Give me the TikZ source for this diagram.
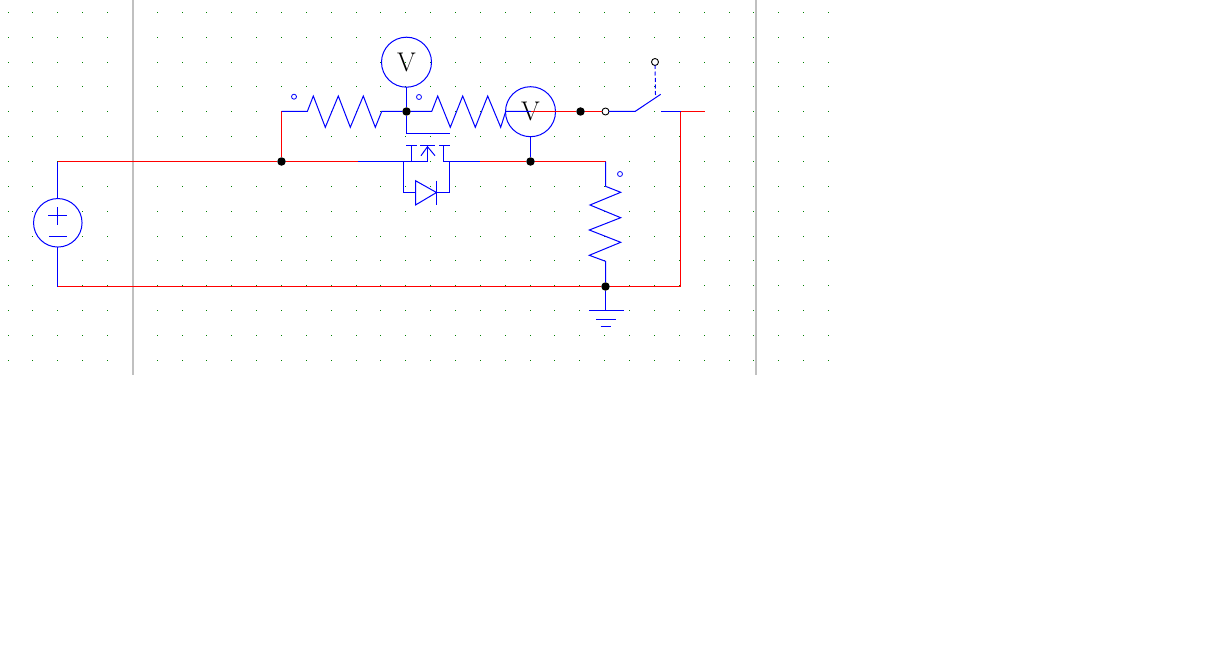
\documentclass[tikz,border=0pt]{standalone}
\definecolor{wireblue}{RGB}{0,0,255}
\definecolor{wirered}{RGB}{255,0,0}
\definecolor{griddot}{RGB}{0,128,0}
\definecolor{guide}{RGB}{192,192,192}
\tikzset{
  bw/.style={draw=wireblue,line width=1pt},
  rw/.style={draw=wirered,line width=1pt},
  guideline/.style={draw=guide,line width=2pt},
  junction/.style={circle,fill=black,draw=none,minimum size=8.5pt,inner sep=0pt,outer sep=0pt},
  opendot/.style={circle,fill=white,draw=black,line width=0.9pt,minimum size=7pt,inner sep=0pt,outer sep=0pt},
  markdot/.style={circle,draw=wireblue,line width=0.8pt,minimum size=5pt,inner sep=0pt,outer sep=0pt},
  meter/.style={circle,draw=wireblue,line width=1pt,minimum size=50pt,inner sep=0pt,outer sep=0pt,font=\fontsize{27}{27}\selectfont},
  source/.style={circle,draw=wireblue,line width=1pt,minimum size=48.5pt,inner sep=0pt,outer sep=0pt}
}
\begin{document}
\begin{tikzpicture}[x=1pt,y=-1pt]
\useasboundingbox (0,0) rectangle (1207,650);
\fill[white] (0,0) rectangle (1207,650);
% grid
\foreach \i in {0,...,33}{\foreach \j in {0,...,14}{
  \pgfmathtruncatemacro{\gx}{8.01+24.862*\i}
  \pgfmathtruncatemacro{\gy}{12.4+24.857*\j}
  \fill[griddot] (\gx,\gy) rectangle ++(1,1);
}}
% guide lines
\coordinate (g1t) at (133,0); \coordinate (g1b) at (133,374.5);
\coordinate (g2t) at (756,0); \coordinate (g2b) at (756,374.5);
\draw[guideline] (g1t) -- (g1b);
\draw[guideline] (g2t) -- (g2b);
% main coordinates
\node[source] (vs) at (57.8,222.8) {};
\node[meter] (v1) at (406.5,62.2) {\raisebox{-0.8pt}{V}};
\node[meter] (v2) at (530.5,111.7) {\raisebox{-0.8pt}{V}};
\node[junction] (j1) at (281.5,161.5) {};
\node[junction] (j2) at (406.5,111.5) {};
\node[junction] (j3) at (530.5,161.5) {};
\node[junction] (j4) at (580.5,111.5) {};
\node[junction] (j5) at (605.5,286.5) {};
\node[opendot] (o1) at (605.5,111.5) {};
\node[opendot] (o2) at (655,62) {};
\coordinate (tl) at (57.5,161.5);
\coordinate (bl) at (57.5,286.5);
\coordinate (tr) at (605.5,161.5);
\coordinate (br) at (680.5,286.5);
\coordinate (sw) at (680.5,111.5);
\coordinate (ft) at (705,111.5);
\coordinate (c1) at (281.5,111.5);
\coordinate (m1) at (358,161.5);
\coordinate (m2) at (480,161.5);
\coordinate (v2c) at (530.5,111.5);
% red wires
\draw[rw] (tl) -- (j1) -- (m1);
\draw[bw] (57.5,198.5) -- (tl);
\draw[bw] (57.5,247) -- (bl);
\draw[rw] (bl) -- (j5) -- (br) -- (sw) -- (ft);
\draw[rw] (j1) -- (c1);
\draw[rw] (m2) -- (j3) -- (tr);
\draw[rw] (v2c) -- (j4) -- (o1);
% source symbols
\draw[bw] (48.3,215.5) -- (66.7,215.5);
\draw[bw] (57.5,207.3) -- (57.5,224.7);
\draw[bw] (49.3,236.5) -- (66.7,236.5);
% resistor 1
\draw[bw,line join=miter] (c1) -- (307.3,111.5) -- (313.3,96) -- (325.3,127.3) -- (338.3,96) -- (350.3,127.3) -- (363.3,96) -- (375.3,127.3) -- (381.7,111.5) -- (j2);
% resistor 2
\draw[bw] (j2) -- (431.7,111.5) -- (437.7,96) -- (450.3,127.3) -- (462.7,96) -- (475.3,127.3) -- (487.7,96) -- (500.7,127.3) -- (505.7,111.5) -- (v2c);
% resistor 3
\draw[bw] (tr) -- (605.5,186.3) -- (620.7,192.3) -- (590,205) -- (620.7,217.7) -- (589.3,230) -- (620.7,242.3) -- (589.3,255.3) -- (605.5,261.3) -- (j5);
% meter leads
\draw[bw] (v1.south) -- (j2);
\draw[bw] (v2.south) -- (j3);
% mosfet
\draw[bw] (j2) -- (406.5,133.5) -- (450,133.5);
\draw[bw] (m1) -- (427.5,161.5) -- (427.5,145.5);
\draw[bw] (406,145.5) -- (416.7,145.5);
\draw[bw] (420,145.5) -- (435,145.5);
\draw[bw] (439.3,145.5) -- (450,145.5);
\draw[bw] (411.5,145.5) -- (411.5,161.5);
\draw[bw] (443.5,145.5) -- (443.5,161.5) -- (m2);
\draw[bw] (421,155.7) -- (427.5,146.7) -- (435,155.7);
% body diode
\draw[bw] (403.5,161.5) -- (403.5,192.5) -- (415.5,192.5);
\draw[bw] (415.5,180.7) -- (415.5,205) -- (436.5,192.5) -- cycle;
\draw[bw] (436.5,180.7) -- (436.5,205);
\draw[bw] (436.5,192.5) -- (449.5,192.5) -- (449.5,161.5);
% switch
\draw[bw] (o1) -- (635,111.5) -- (660.7,94.3);
\draw[bw,dash pattern=on 4pt off 2.5pt] (655.5,95) -- (o2);
\draw[bw] (661,111.5) -- (sw);
% ground
\draw[bw] (j5) -- (605.5,310.5);
\draw[bw] (589,310.5) -- (624,310.5);
\draw[bw] (596,319.5) -- (616,319.5);
\draw[bw] (600.7,326.5) -- (611,326.5);
% markers
\node[markdot] (r1m) at (294,96.7) {};
\node[markdot] (r2m) at (419,97) {};
\node[markdot] (r3m) at (620,174) {};
\end{tikzpicture}
\end{document}
